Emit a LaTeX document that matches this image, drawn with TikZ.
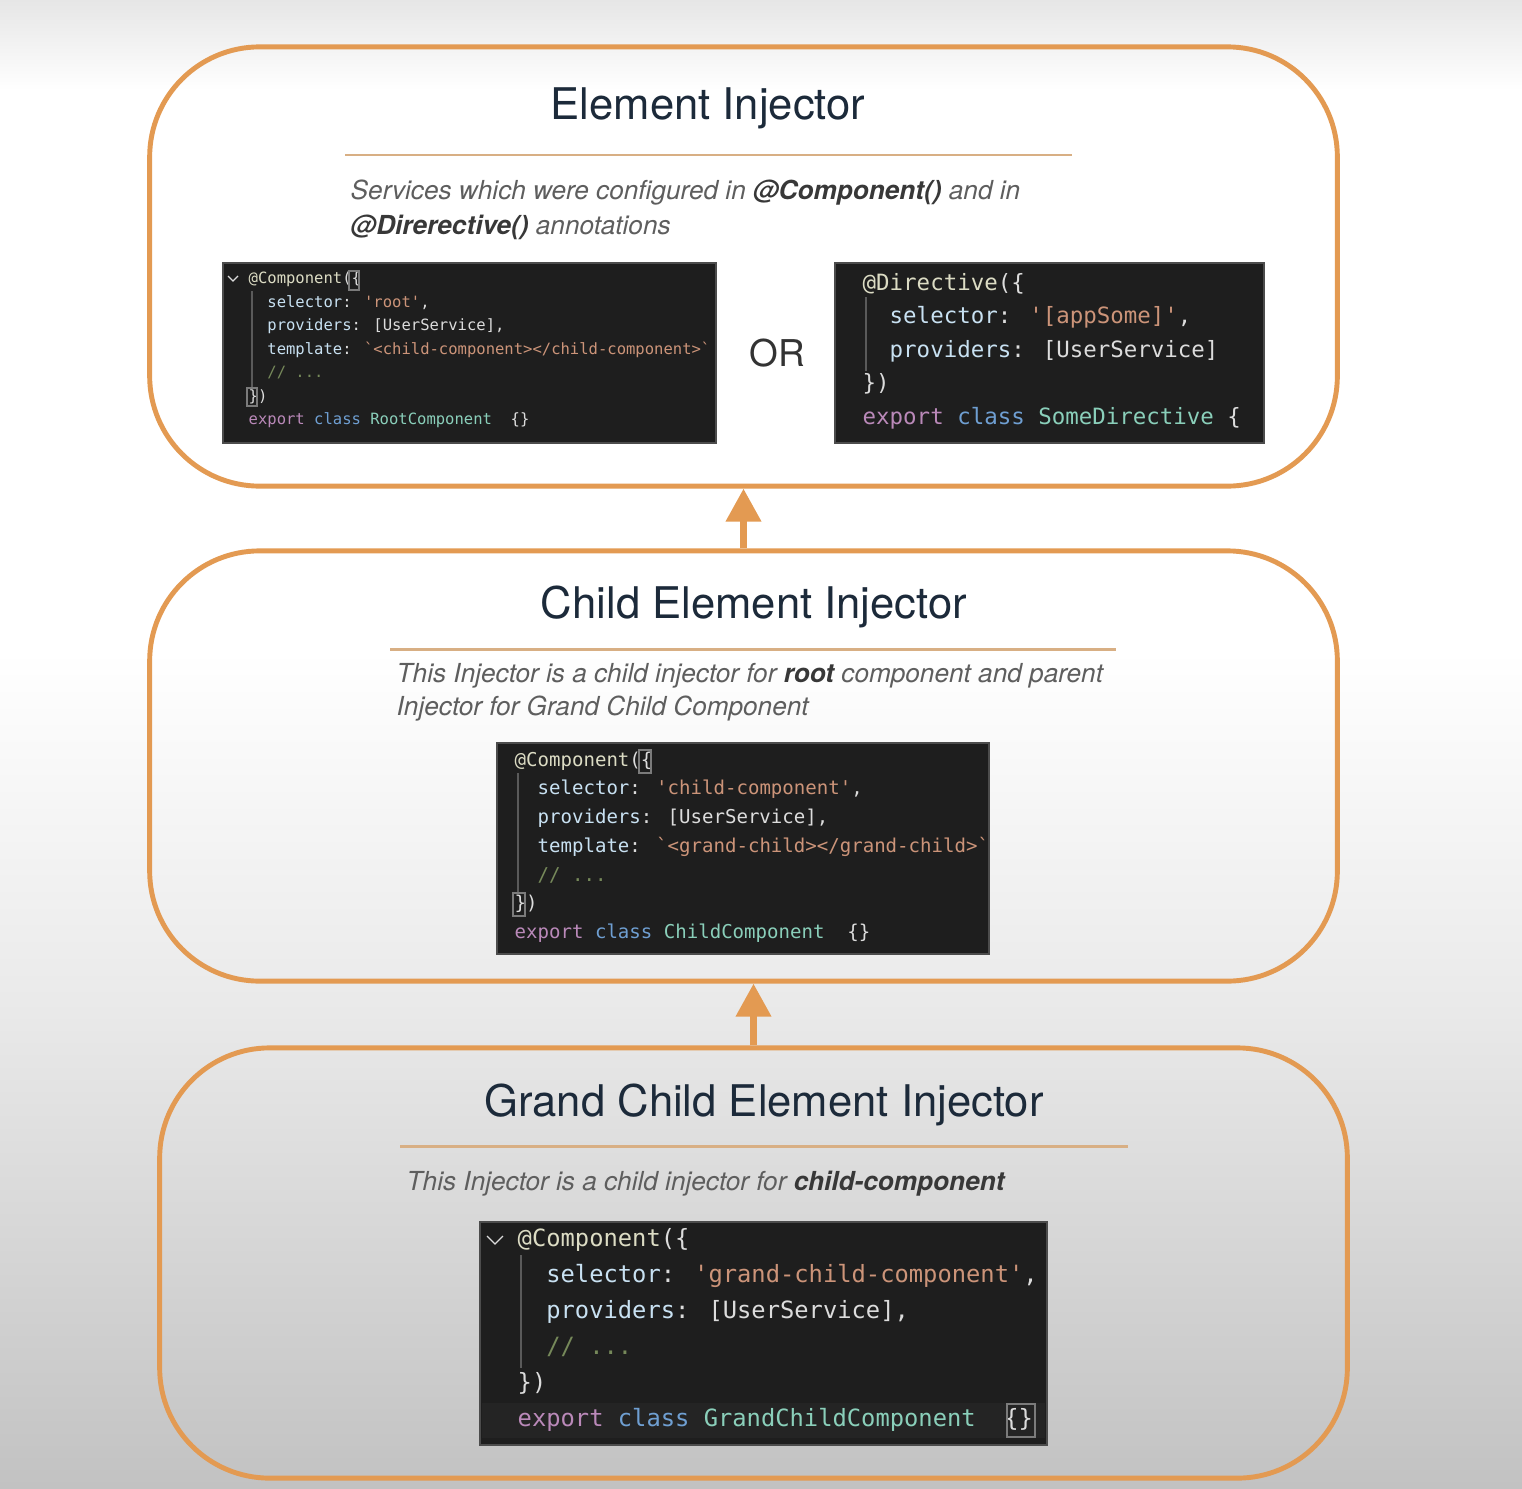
\documentclass[tikz,border=0pt]{standalone}
\usepackage{fontspec}
\setmainfont{TeX Gyre Heros}
\newfontfamily\codefont{DejaVu Sans Mono}
\usepackage{tikz}
\usetikzlibrary{arrows.meta, positioning}
\definecolor{frameink}{HTML}{E39A52}
\definecolor{ruleink}{HTML}{D8AF84}
\definecolor{titleink}{HTML}{1C2A3A}
\definecolor{noteink}{HTML}{5E5E5E}
\definecolor{noteboldink}{HTML}{383838}
\definecolor{bgtop}{HTML}{E6E6E6}
\definecolor{bgmid}{HTML}{EAEAEA}
\definecolor{bgbot}{HTML}{C2C2C2}
\definecolor{codebg}{HTML}{1E1E1E}
\definecolor{codeline}{HTML}{242424}
\definecolor{codeplain}{HTML}{DCDCDC}
\definecolor{codekeyink}{HTML}{C8E1F2}
\definecolor{codestrink}{HTML}{CC9479}
\definecolor{codekwink}{HTML}{BA89B9}
\definecolor{codeclsink}{HTML}{6F9FD2}
\definecolor{codenameink}{HTML}{8ACFBA}
\definecolor{codecmtink}{HTML}{76895A}
\definecolor{codeannink}{HTML}{DCDCC4}
\definecolor{guideink}{HTML}{5A5A5A}
\newcommand{\codekey}[1]{\textcolor{codekeyink}{#1}}
\newcommand{\codestr}[1]{\textcolor{codestrink}{#1}}
\newcommand{\codekw}[1]{\textcolor{codekwink}{#1}}
\newcommand{\codecls}[1]{\textcolor{codeclsink}{#1}}
\newcommand{\codename}[1]{\textcolor{codenameink}{#1}}
\newcommand{\codecmt}[1]{\textcolor{codecmtink}{#1}}
\newcommand{\codeann}[1]{\textcolor{codeannink}{#1}}
\newcommand{\codeind}{\hphantom{xx}}
\newcommand{\codeq}{\textquotesingle}
\newcommand{\codebq}{\textasciigrave}
\newcommand{\notebold}[1]{\textcolor{noteboldink}{\textbf{#1}}}
\tikzstyle{injector}=[draw=frameink, line width=1.4pt, rounded corners=1.1cm, minimum width=11.87cm, minimum height=4.3cm, inner sep=0pt]
\tikzstyle{lift}=[draw=frameink, line width=0.07cm, -{Triangle[width=0.34cm, length=0.33cm]}]
\tikzstyle{title}=[font=\fontsize{12.4}{15}\selectfont, text=titleink, inner sep=0pt, anchor=base]
\tikzstyle{divider}=[draw=ruleink, line width=0.85pt]
\tikzstyle{note}=[font=\fontsize{7.45}{9.8}\selectfont\itshape, text=noteink, align=left, inner sep=0pt, anchor=west]
\tikzstyle{codebox}=[fill=codebg, draw=black!70, line width=0.4pt, inner sep=0pt]
\tikzstyle{code}=[align=left, inner sep=0pt, anchor=west, text=codeplain]
\tikzstyle{indentguide}=[draw=guideink, line width=0.3pt]
\tikzstyle{matchbox}=[draw=guideink!80!white, line width=0.3pt]
\tikzstyle{fold}=[draw=codeplain, line width=0.35pt]

\begin{document}
\begin{tikzpicture}[x=0.01cm, y=-0.01cm]
\useasboundingbox (0,0) rectangle (1522,1488);
% backdrop
\fill[top color=bgtop, bottom color=white] (0,0) rectangle (1522,90);
\fill[white] (0,90) rectangle (1522,650);
\fill[top color=white, bottom color=bgmid] (0,650) rectangle (1522,1000);
\fill[top color=bgmid, bottom color=bgbot] (0,1000) rectangle (1522,1488);

% the three injectors
\node[injector, minimum height=4.39cm] (elem) at (743.5,266.5) {};
\node[injector] (child) at (743.5,766) {};
\node[injector] (grand) at (753.5,1263) {};
\draw[lift] (child.north) -- (elem.south);
\draw[lift] (grand.north) -- (grand.north |- child.south);

% element injector
\node[title] (elemtitle) at (708,120) {Element Injector};
\draw[divider] (345,155) -- (1072,155);
\node[note, font=\fontsize{7.45}{9.95}\selectfont\itshape] (elemnote) at (350,209.5) {Services which were configured in \notebold{@Component()} and in\\\notebold{@Direrective()} annotations};
\node[codebox, minimum width=4.93cm, minimum height=1.8cm] (rootcode) at (469.5,353) {};
\node[code, font=\codefont\fontsize{4.42}{6.69}\selectfont] (roottext) at (248,350) {\codeann{@Component}(\{\\
\codeind\codekey{selector}: \codestr{\codeq root\codeq},\\
\codeind\codekey{providers}: [UserService],\\
\codeind\codekey{template}: \codestr{\codebq<child-component></child-component>\codebq}\\
\codeind\codecmt{// ...}\\
\})\\
\codekw{export} \codecls{class} \codename{RootComponent}\codeind\{\}};
\draw[fold] (228,276) -- (233,281) -- (238,276);
\draw[indentguide] (252,291) -- (252,387);
\draw[matchbox] (349,271) rectangle (359,290);
\draw[matchbox] (247,388) rectangle (257,406);
\node[font=\fontsize{10.5}{12}\selectfont, text=black!80, right=0.2cm of rootcode] (or) {OR};
\node[codebox, minimum width=4.29cm, minimum height=1.8cm] (dircode) at (1049.5,353) {};
\node[code, font=\codefont\fontsize{6.38}{9.53}\selectfont] (dirtext) at (862,351) {\codeann{@Directive}(\{\\
\codeind\codekey{selector}: \codestr{\codeq[appSome]\codeq},\\
\codeind\codekey{providers}: [UserService]\\
\})\\
\codekw{export} \codecls{class} \codename{SomeDirective} \{};
\draw[indentguide] (866,297) -- (866,371);

% child element injector
\node[title] (childtitle) at (754,618) {Child Element Injector};
\draw[divider] (390,649) -- (1116,649);
\node[note, font=\fontsize{7.45}{9.4}\selectfont\itshape] (childnote) at (396,692.5) {This Injector is a child injector for \notebold{root} component and parent\\Injector for Grand Child Component};
\node[codebox, minimum width=4.92cm, minimum height=2.11cm] (childcode) at (743,848.5) {};
\node[code, font=\codefont\fontsize{5.42}{8.17}\selectfont] (childtext) at (514,847) {\codeann{@Component}(\{\\
\codeind\codekey{selector}: \codestr{\codeq child-component\codeq},\\
\codeind\codekey{providers}: [UserService],\\
\codeind\codekey{template}: \codestr{\codebq<grand-child></grand-child>\codebq}\\
\codeind\codecmt{// ...}\\
\})\\
\codekw{export} \codecls{class} \codename{ChildComponent}\codeind\{\}};
\draw[indentguide] (518,773) -- (518,893);
\draw[matchbox] (639,750) rectangle (651,773);
\draw[matchbox] (513,893) rectangle (525,916);

% grand child element injector
\node[title] (grandtitle) at (764,1116) {Grand Child Element Injector};
\draw[divider] (400,1146) -- (1128,1146);
\node[note] (grandnote) at (406,1184) {This Injector is a child injector for \notebold{child-component}};
\node[codebox, minimum width=5.67cm, minimum height=2.23cm] (grandcode) at (763.5,1333.5) {};
\fill[codeline] (482,1403) rectangle (1045,1438);
\node[code, font=\codefont\fontsize{6.76}{10.24}\selectfont] (grandtext) at (517,1330) {\codeann{@Component}(\{\\
\codeind\codekey{selector}: \codestr{\codeq grand-child-component\codeq},\\
\codeind\codekey{providers}: [UserService],\\
\codeind\codecmt{// ...}\\
\})\\
\codekw{export} \codecls{class} \codename{GrandChildComponent}\codeind\{\}};
\draw[fold] (487,1236) -- (495,1244) -- (503,1236);
\draw[indentguide] (521,1255) -- (521,1368);
\draw[matchbox] (1007,1404) rectangle (1035,1437);
\end{tikzpicture}
\end{document}
